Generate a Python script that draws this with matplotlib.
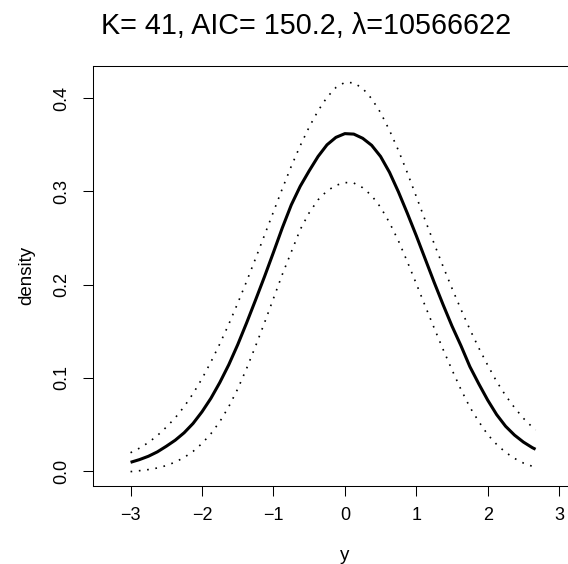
import matplotlib
matplotlib.use("Agg")
import matplotlib.pyplot as plt

# values
y_grid = [-3.0, -2.875, -2.75, -2.625, -2.5, -2.375, -2.25, -2.125, -2.0, -1.875, -1.75, -1.625,
          -1.5, -1.375, -1.25, -1.125, -1.0, -0.875, -0.75, -0.625, -0.5, -0.375, -0.25, -0.125,
          0.0, 0.125, 0.25, 0.375, 0.5, 0.625, 0.75, 0.875, 1.0, 1.125, 1.25, 1.375,
          1.5, 1.625, 1.75, 1.875, 2.0, 2.125, 2.25, 2.375, 2.5, 2.625, 2.67]
density = [0.0093, 0.0122, 0.0158, 0.0205, 0.0265, 0.0330, 0.0410, 0.0510, 0.0635, 0.0780, 0.0950, 0.1140,
           0.1355, 0.1590, 0.1835, 0.2085, 0.2345, 0.2610, 0.2855, 0.3055, 0.3220, 0.3375, 0.3500, 0.3580,
           0.3620, 0.3615, 0.3570, 0.3495, 0.3375, 0.3205, 0.2995, 0.2765, 0.2525, 0.2275, 0.2025, 0.1785,
           0.1555, 0.1345, 0.1120, 0.0935, 0.0760, 0.0605, 0.0480, 0.0385, 0.0310, 0.0250, 0.0233]
upper = [0.0196, 0.0245, 0.0305, 0.0380, 0.0470, 0.0570, 0.0690, 0.0830, 0.0990, 0.1170, 0.1365, 0.1575,
         0.1800, 0.2035, 0.2280, 0.2530, 0.2780, 0.3030, 0.3270, 0.3490, 0.3690, 0.3865, 0.4010, 0.4115,
         0.4170, 0.4165, 0.4105, 0.3995, 0.3845, 0.3655, 0.3440, 0.3200, 0.2945, 0.2690, 0.2440, 0.2195,
         0.1960, 0.1735, 0.1520, 0.1320, 0.1135, 0.0960, 0.0810, 0.0680, 0.0565, 0.0470, 0.0440]
lower = [-0.0007, 0.0003, 0.0015, 0.0032, 0.0058, 0.0095, 0.0145, 0.0210, 0.0295, 0.0400, 0.0530, 0.0690,
         0.0880, 0.1100, 0.1340, 0.1590, 0.1850, 0.2110, 0.2350, 0.2590, 0.2770, 0.2910, 0.3005, 0.3065,
         0.3095, 0.3090, 0.3040, 0.2955, 0.2830, 0.2665, 0.2470, 0.2245, 0.2010, 0.1770, 0.1535, 0.1305,
         0.1085, 0.0875, 0.0685, 0.0530, 0.0390, 0.0285, 0.0200, 0.0135, 0.0085, 0.0050, 0.0042]

x_ticks = [-3, -2, -1, 0, 1, 2, 3]
y_ticks = [0.0, 0.1, 0.2, 0.3, 0.4]
y_tick_labels = ["0.0", "0.1", "0.2", "0.3", "0.4"]
title = "K= 41, AIC= 150.2, \u03bb=10566622"

plt.rcParams["font.family"] = ["Liberation Sans", "DejaVu Sans"]

W, H = 568, 564
fig = plt.figure(figsize=(W / 100, H / 100), dpi=100)

# plot box in pixels: left 92.7, top 65.7, bottom 485.7; right side runs past the image
left, right, top, bottom = 92.7, 597.0, 65.7, 485.7
ax = fig.add_axes([left / W, 1 - bottom / H, (right - left) / W, (bottom - top) / H])

ax.plot(y_grid, density, color="black", lw=2.2, solid_capstyle="butt", solid_joinstyle="round")
ax.plot(y_grid, upper, color="black", lw=1.2, linestyle=(0, (1, 4)))
ax.plot(y_grid, lower, color="black", lw=1.2, linestyle=(0, (1, 4)))

ax.set_xlim(-3.53, 3.53)
ax.set_ylim(-0.0158, 0.4349)

ax.set_xticks(x_ticks)
ax.set_yticks(y_ticks)
ax.set_yticklabels(y_tick_labels, rotation=90, va="center")
ax.tick_params(axis="both", length=7.2, width=0.75, labelsize=13, direction="out")
ax.tick_params(axis="x", pad=8)
ax.tick_params(axis="y", pad=9)

for s in ax.spines.values():
    s.set_linewidth(0.75)

ax.set_xlabel("y", fontsize=13.5, labelpad=17)
ax.set_ylabel("density", fontsize=13.5, labelpad=13)

fig.text(305.8 / W, 1 - 34.3 / H, title, fontsize=20.7, ha="center", va="baseline")

fig.savefig("out.png", dpi=100)
